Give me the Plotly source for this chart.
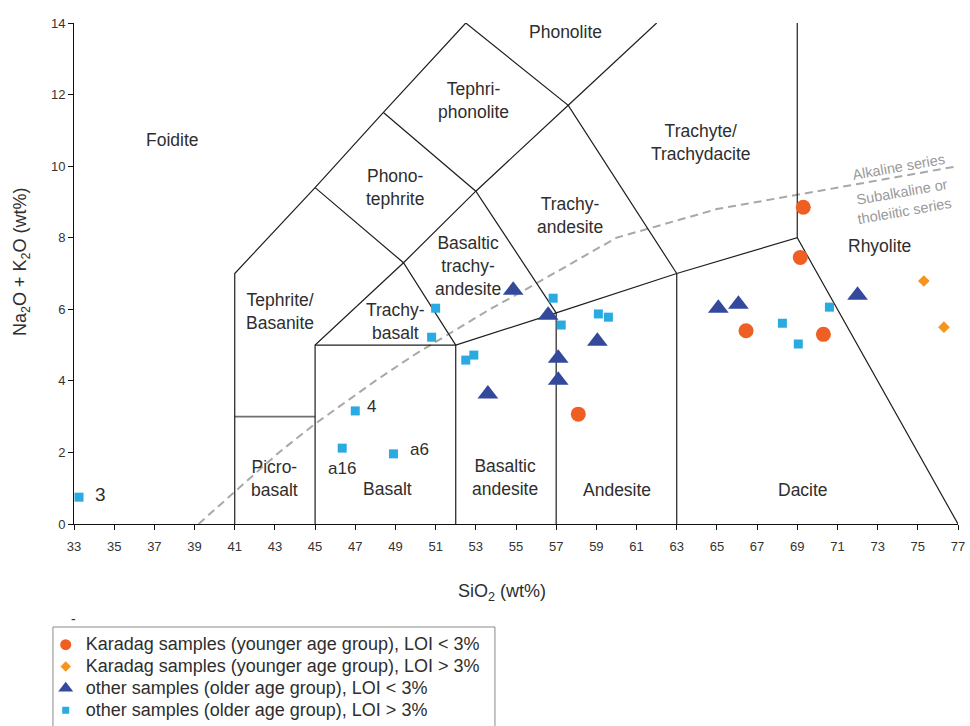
import plotly.graph_objects as go

# ---- sample analyses: SiO2 (wt%) vs total alkalis Na2O + K2O (wt%) ----
karadag_low_sio2 = [69.3, 69.15, 66.45, 70.3, 58.1]
karadag_low_alk = [8.85, 7.45, 5.40, 5.30, 3.07]

karadag_high_sio2 = [75.3, 76.3]
karadag_high_alk = [6.79, 5.50]

older_low_sio2 = [54.86, 56.6, 57.1, 57.1, 53.6, 59.05, 65.07, 66.07, 72.0]
older_low_alk = [6.53, 5.83, 4.63, 4.02, 3.63, 5.11, 6.03, 6.14, 6.39]

older_high_sio2 = [33.25, 47.0, 46.35, 48.9, 51.0, 50.8, 52.5, 52.9,
                   56.85, 57.25, 59.1, 59.6, 68.26, 69.05, 70.6]
older_high_alk = [0.75, 3.16, 2.12, 1.96, 6.03, 5.22, 4.58, 4.72,
                  6.31, 5.56, 5.87, 5.78, 5.61, 5.03, 6.06]
older_high_names = ["3", "4", "a16", "a6", "", "", "", "", "", "", "", "", "", "", ""]

# ---- TAS field boundaries (Le Bas et al.) ----
boundary_sio2 = [
    [41, 41, 45, 48.4, 52.5],
    [45, 45, 49.4, 53, 57.6, 62.0],
    [45, 52, 57, 63, 69, 77],
    [52, 52],
    [57, 57],
    [63, 63],
    [69, 69],
    [45, 49.4, 52],
    [48.4, 53, 57],
    [52.5, 57.6, 63],
]
boundary_alk = [
    [0, 7, 9.4, 11.5, 14],
    [0, 5, 7.3, 9.3, 11.7, 14],
    [5, 5, 5.9, 7, 8, 0],
    [0, 5],
    [0, 5.9],
    [0, 7],
    [8, 14],
    [9.4, 7.3, 5],
    [11.5, 9.3, 5.9],
    [14, 11.7, 7],
]
picro_sio2 = [41, 45]
picro_alk = [3, 3]

# alkaline / subalkaline dividing curve
divide_sio2 = [39.2, 40, 43.2, 45, 48, 50, 53.7, 55, 60, 65, 77]
divide_alk = [0, 0.4, 2.0, 2.8, 4.0, 4.75, 6.0, 6.4, 8.0, 8.8, 10.0]

# rock names of the fields
field_names = ["Phonolite", "Tephri-<br>phonolite", "Phono-<br>tephrite", "Trachy-<br>andesite",
               "Basaltic<br>trachy-<br>andesite", "Trachyte/<br>Trachydacite", "Rhyolite",
               "Foidite", "Tephrite/<br>Basanite", "Trachy-<br>basalt", "Picro-<br>basalt",
               "Basalt", "Basaltic<br>andesite", "Andesite", "Dacite"]
field_sio2 = [57.45, 52.87, 48.99, 57.7, 52.6, 64.2, 73.1, 37.88, 43.26, 48.99, 43.0,
              48.6, 54.46, 60.05, 69.3]
field_alk = [13.74, 11.84, 9.41, 8.63, 7.2, 10.67, 7.77, 10.73, 5.95, 5.67, 1.26,
             0.98, 1.29, 0.95, 0.95]

FONT = "Liberation Sans, Arial, sans-serif"
TXT = "#2e2e2e"

fig = go.Figure()

fig.add_trace(go.Scatter(
    x=divide_sio2, y=divide_alk, mode="lines",
    line=dict(color="#a8a8a8", width=2, dash="8px,5px"),
    hoverinfo="skip", showlegend=False))

fig.add_trace(go.Scatter(
    x=picro_sio2, y=picro_alk, mode="lines",
    line=dict(color="#707070", width=1.6),
    hoverinfo="skip", showlegend=False))

for xs, ys in zip(boundary_sio2, boundary_alk):
    fig.add_trace(go.Scatter(
        x=xs, y=ys, mode="lines",
        line=dict(color="#1e1e1e", width=1.2),
        hoverinfo="skip", showlegend=False))

styles = [
    ("Karadag samples (younger age group), LOI < 3%", karadag_low_sio2, karadag_low_alk,
     "circle", "#ef5f24", 15, 11),
    ("Karadag samples (younger age group), LOI > 3%", karadag_high_sio2, karadag_high_alk,
     "diamond", "#f7941d", 9, 8),
    ("other samples (older age group), LOI < 3%", older_low_sio2, older_low_alk,
     "triangle-up", "#34499b", 18, 13),
    ("other samples (older age group), LOI > 3%", older_high_sio2, older_high_alk,
     "square", "#29abe2", 9, 7),
]

for name, xs, ys, sym, col, size, _ in styles:
    fig.add_trace(go.Scatter(
        x=xs, y=ys, mode="markers", name=name,
        marker=dict(symbol=sym, color=col, size=size, line=dict(width=0)),
        cliponaxis=False, showlegend=False))

# legend entries with smaller keys; text set larger than the row spacing font
for name, _, _, sym, col, _, lsize in styles:
    fig.add_trace(go.Scatter(
        x=[None], y=[None], mode="markers",
        name='<span style="font-size:18px">' + name + "</span>",
        marker=dict(symbol=sym, color=col, size=lsize, line=dict(width=0)),
        showlegend=True))

annotations = []
for name, x, y in zip(field_names, field_sio2, field_alk):
    annotations.append(dict(x=x, y=y, text=name, showarrow=False,
                            font=dict(family=FONT, size=17.5, color=TXT)))

# sample labels beside their points
label_offsets = {"3": (14, 3, "left", 19), "4": (10, 4, "left", 17),
                 "a16": (0, -20, "center", 17), "a6": (15, 4, "left", 17)}
for lab, x, y in zip(older_high_names, older_high_sio2, older_high_alk):
    if lab:
        dx, dy, anc, fs = label_offsets[lab]
        annotations.append(dict(x=x, y=y, text=lab, showarrow=False, xanchor=anc,
                                xshift=dx, yshift=dy,
                                font=dict(family=FONT, size=fs, color=TXT)))

# series names along the dividing curve
for txt, x, y in [("Alkaline series", 74.04, 9.97),
                  ("Subalkaline or", 74.2, 9.28),
                  ("tholeiitic series", 74.35, 8.74)]:
    annotations.append(dict(x=x, y=y, text=txt, showarrow=False, textangle=-10,
                            font=dict(family=FONT, size=14.5, color="#9a9a9a")))

# axis titles
annotations.append(dict(xref="paper", yref="paper", x=0.484, y=-0.136,
                        xanchor="center", yanchor="middle",
                        text="SiO<sub>2</sub> (wt%)", showarrow=False,
                        font=dict(family=FONT, size=18, color=TXT)))
annotations.append(dict(xref="paper", yref="paper", x=-0.0588, y=0.523,
                        xanchor="center", yanchor="middle",
                        text="Na<sub>2</sub>O + K<sub>2</sub>O (wt%)", showarrow=False,
                        textangle=-90, font=dict(family=FONT, size=18, color=TXT)))
annotations.append(dict(xref="paper", yref="paper", x=-0.001, y=-0.19,
                        xanchor="center", yanchor="middle",
                        text="-", showarrow=False,
                        font=dict(family=FONT, size=14, color=TXT)))

axis_common = dict(showline=True, linecolor="#111", linewidth=1, ticks="outside",
                   ticklen=5, tickcolor="#111", tickwidth=1, showgrid=False,
                   zeroline=False, tickfont=dict(family=FONT, size=13, color="#333"))

fig.update_layout(
    width=970, height=726, autosize=False,
    margin=dict(l=74, r=12, t=23, b=202, autoexpand=False),
    paper_bgcolor="white", plot_bgcolor="white",
    font=dict(family=FONT, color=TXT),
    xaxis=dict(range=[33, 77], tickvals=list(range(33, 78, 2)), automargin=False,
               ticklabelstandoff=5, **axis_common),
    yaxis=dict(range=[0, 14], tickvals=list(range(0, 15, 2)), automargin=False,
               **axis_common),
    legend=dict(x=-0.032, xanchor="left", y=-0.209, yanchor="top",
                bgcolor="rgba(0,0,0,0)", borderwidth=0,
                font=dict(family=FONT, size=14.5, color=TXT), tracegroupgap=0),
    annotations=annotations,
    shapes=[dict(type="rect", xref="paper", yref="paper",
                 x0=-0.0238, x1=0.4762, y0=-0.2056, y1=-0.45,
                 line=dict(color="#8a8a8a", width=1))],
)

fig.write_html("out.html")
